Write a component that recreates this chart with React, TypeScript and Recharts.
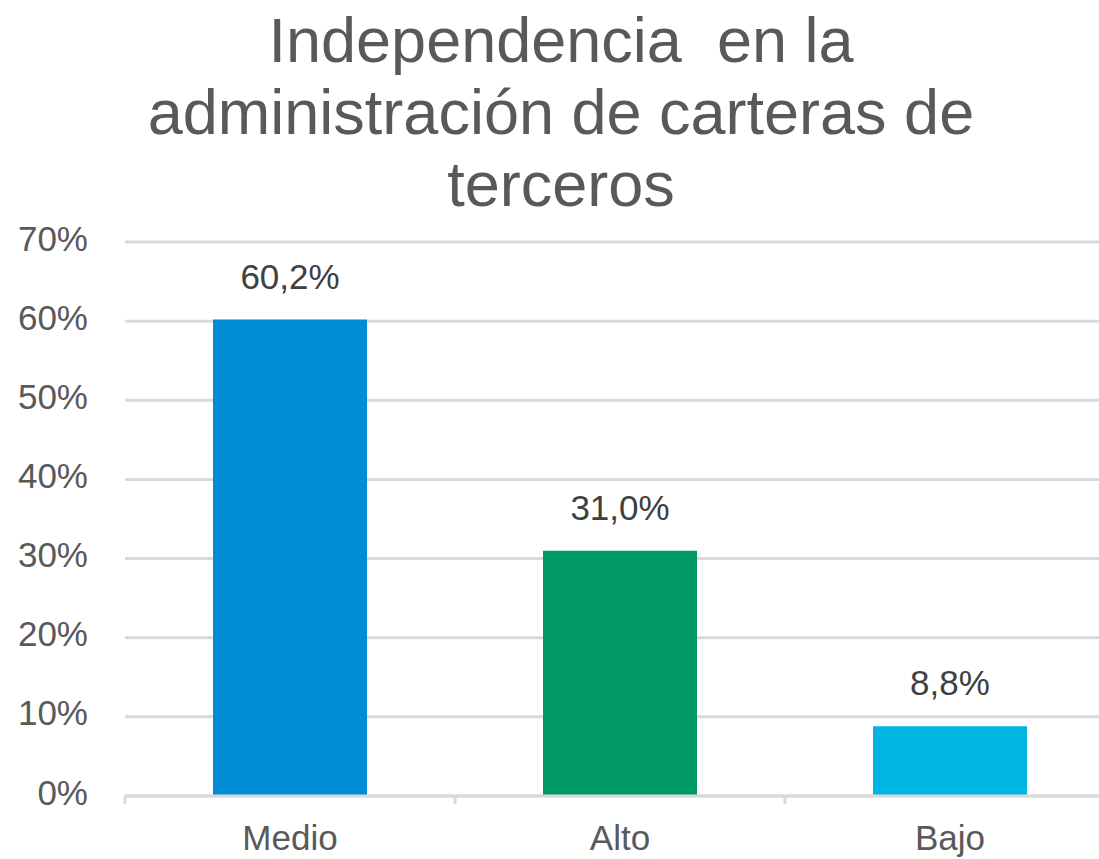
import { BarChart, Bar, XAxis, YAxis, CartesianGrid, Cell, LabelList } from "recharts";

const categories = ["Medio", "Alto", "Bajo"];
const values = [60.2, 31.0, 8.8];
const barColors = ["#038cd6", "#009963", "#00b5e2"];
const yTicks = [0, 10, 20, 30, 40, 50, 60, 70];
const titleLines = ["Independencia  en la", "administración de carteras de", "terceros"];

const data = categories.map((name, i) => ({ name, value: values[i] }));

const FONT = '"Liberation Sans", Arial, sans-serif';
const GRID = "#d9d9d9";

const fmtLabel = (v: any) => `${Number(v).toFixed(1).replace(".", ",")}%`;

const YTick = (props: any) => {
  const { x, y, payload } = props;
  return (
    <text x={x} y={y} dy={-4} textAnchor="end" dominantBaseline="central" fill="#595959" fontSize={35} fontFamily={FONT}>
      {`${payload.value}%`}
    </text>
  );
};

const XTick = (props: any) => {
  const { x, y, payload, index } = props;
  const half = payload.offset || 165;
  return (
    <g>
      <line x1={x - half} x2={x - half} y1={y} y2={y + 8} stroke={GRID} strokeWidth={3} />
      {index === categories.length - 1 && (
        <line x1={x + half} x2={x + half} y1={y} y2={y + 8} stroke={GRID} strokeWidth={3} />
      )}
      <text x={x} y={y + 54} textAnchor="middle" fill="#595959" fontSize={35} fontFamily={FONT}>
        {payload.value}
      </text>
    </g>
  );
};

export default function App() {
  return (
    <div style={{ position: "absolute", left: 0, top: 0, width: 1099, height: 859, overflow: "hidden", background: "#fff" }}>
      <div style={{ position: "absolute", left: 0, top: 4, width: 1122, textAlign: "center", fontFamily: FONT, fontSize: 63, lineHeight: "72px", color: "#595959", whiteSpace: "pre" }}>
        {titleLines.map((l) => (
          <div key={l}>{l}</div>
        ))}
      </div>
      <div style={{ position: "absolute", left: 0, top: 0 }}>
        <BarChart width={1140} height={859} data={data} margin={{ top: 242, right: 25, bottom: 0, left: 0 }} barSize={154}>
          <CartesianGrid vertical={false} stroke={GRID} strokeWidth={3} />
          <XAxis
            dataKey="name"
            axisLine={{ stroke: GRID, strokeWidth: 3 }}
            tickLine={false}
            tickSize={0}
            tickMargin={0}
            tick={<XTick />}
            interval={0}
            height={63}
          />
          <YAxis
            domain={[0, 70]}
            ticks={yTicks}
            axisLine={false}
            tickLine={false}
            tickSize={0}
            tickMargin={37}
            width={125}
            tick={<YTick />}
            interval={0}
          />
          <Bar dataKey="value" isAnimationActive={false}>
            {data.map((d, i) => (
              <Cell key={d.name} fill={barColors[i]} />
            ))}
            <LabelList dataKey="value" position="top" offset={31} formatter={fmtLabel} fill="#404040" fontSize={35} fontFamily={FONT} />
          </Bar>
        </BarChart>
      </div>
    </div>
  );
}
